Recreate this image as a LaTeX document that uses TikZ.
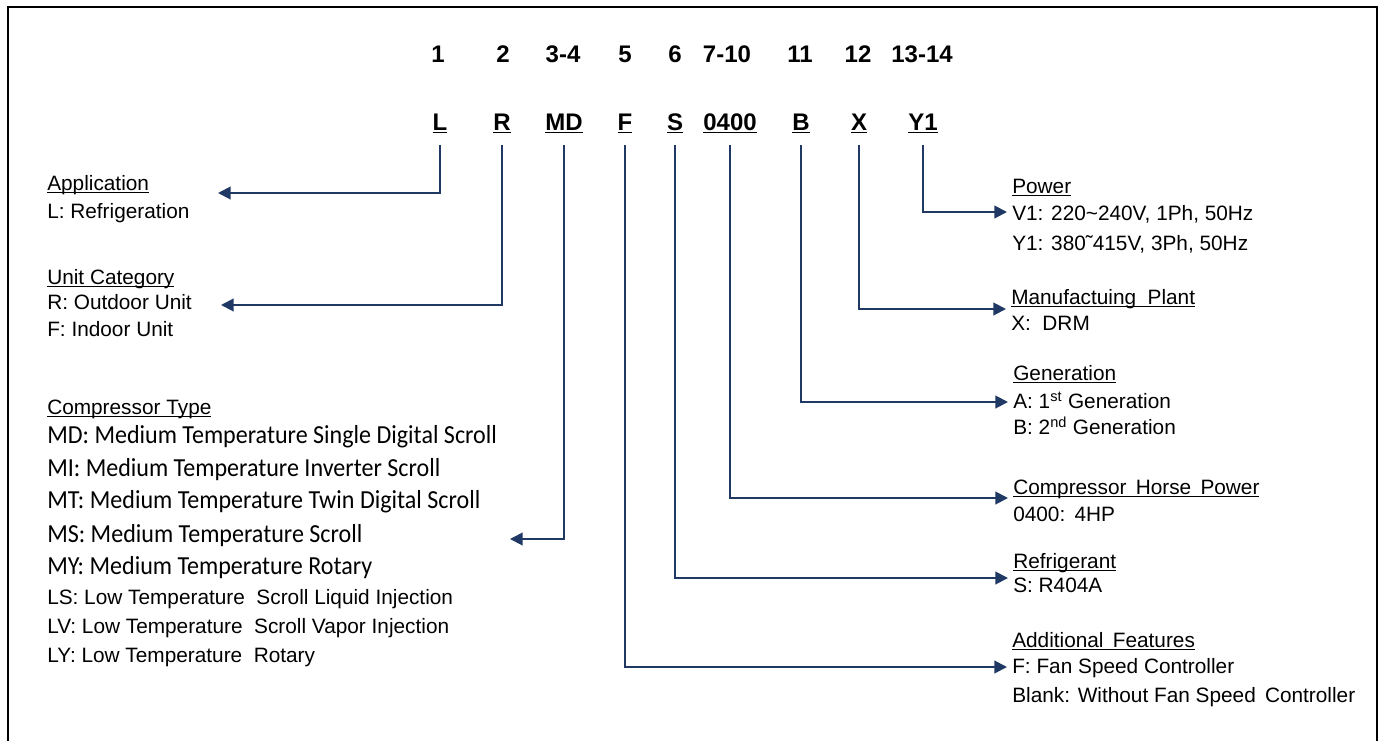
\documentclass[tikz,border=0pt]{standalone}
\usepackage{fontspec}
\setmainfont{Liberation Sans}
\newfontfamily\calibfont[FakeStretch=0.925]{Carlito}
\usepackage{tikz}
\usetikzlibrary{positioning}
\usetikzlibrary{arrows.meta}
\definecolor{navy}{RGB}{31,56,100}
\newcommand{\headul}[1]{\underline{\smash{#1}}}

\begin{document}
\begin{tikzpicture}[x=0.75pt,y=-0.75pt,
    digit/.style={font=\fontsize{18pt}{21pt}\selectfont\bfseries, anchor=base, inner sep=0pt},
    code/.style={digit, outer ysep=9pt},
    head/.style={font=\fontsize{15.6pt}{18pt}\selectfont, anchor=base west, inner sep=0pt},
    desc/.style={head},
    cdesc/.style={font=\calibfont\fontsize{19.5pt}{22pt}\selectfont, anchor=base west, inner sep=0pt},
    link/.style={draw=navy, line width=1.5pt, -{Triangle[length=9.5pt,width=9.5pt]}},
    frame/.style={draw=black, line width=1.5pt}]

    \useasboundingbox (0,0) rectangle (1384,740);
    \draw[frame] (8,760) -- (8,7) -- (1377,7) -- (1377,760);

    % Define nodes: digit positions
    \node[digit] (n1)  at (438,62) {1};
    \node[digit] (n2)  at (503,62) {2};
    \node[digit] (n3)  at (563,62) {3-4};
    \node[digit] (n5)  at (625,62) {5};
    \node[digit] (n6)  at (675,62) {6};
    \node[digit] (n7)  at (727,62) {7-10};
    \node[digit] (n11) at (800,62) {11};
    \node[digit] (n12) at (858,62) {12};
    \node[digit] (n13) at (922,62) {13-14};

    % Define nodes: model code
    \node[code] (cL)  at (440,130) {\underline{L}};
    \node[code] (cR)  at (502,130) {\underline{R}};
    \node[code] (cMD) at (564,130) {\underline{MD}};
    \node[code] (cF)  at (625,130) {\underline{F}};
    \node[code] (cS)  at (675,130) {\underline{S}};
    \node[code] (c04) at (730,130) {\underline{0400}};
    \node[code] (cB)  at (801,130) {\underline{B}};
    \node[code] (cX)  at (859,130) {\underline{X}};
    \node[code] (cY)  at (923,130) {\underline{Y1}};

    % Define nodes: left descriptions
    \node[head] (appHead)  at (47,190) {\headul{Application}};
    \node[desc] (appL)     at (47,218) {L: Refrigeration};
    \node[head] (unitHead) at (47,284) {\headul{Unit Category}};
    \node[desc] (unitR)    at (47,309) {R: Outdoor Unit};
    \node[desc] (unitF)    at (47,336) {F: Indoor Unit};
    \node[head] (compHead) at (47,414) {\headul{Compressor Type}};
    \node[cdesc] (compMD)  at (47,443) {MD: Medium Temperature Single Digital Scroll};
    \node[cdesc] (compMI)  at (47,476) {MI: Medium Temperature Inverter Scroll};
    \node[cdesc] (compMT)  at (47,508) {MT: Medium Temperature Twin Digital Scroll};
    \node[cdesc] (compMS)  at (47,542) {MS: Medium Temperature Scroll};
    \node[cdesc] (compMY)  at (47,574) {MY: Medium Temperature Rotary};
    \node[desc] (compLS)   at (47,604) {LS: Low Temperature\ \ Scroll Liquid Injection};
    \node[desc] (compLV)   at (47,633) {LV: Low Temperature\ \ Scroll Vapor Injection};
    \node[desc] (compLY)   at (47,662) {LY: Low Temperature\ \ Rotary};

    % Define nodes: right descriptions
    \node[head] (pwrHead)  at (1012,193) {\headul{Power}};
    \node[desc] (pwrV)     at (1012,220) {V1: 220\textasciitilde 240V, 1Ph, 50Hz};
    \node[desc] (pwrY)     at (1012,250) {Y1: 380˜415V, 3Ph, 50Hz};
    \node[head] (plantHead) at (1011,304) {\headul{Manufactuing\ \ Plant}};
    \node[desc] (plantX)   at (1011,330) {X:\ \ DRM};
    \node[head] (genHead)  at (1013,380) {\headul{Generation}};
    \node[desc] (genA)     at (1013,408) {A: 1\textsuperscript{st} Generation};
    \node[desc] (genB)     at (1013,434) {B: 2\textsuperscript{nd} Generation};
    \node[head] (hpHead)   at (1013,494) {\headul{Compressor\,\ Horse\,\ Power}};
    \node[desc] (hp04)     at (1013,521) {0400:\,\ 4HP};
    \node[head] (refHead)  at (1013,568) {\headul{Refrigerant}};
    \node[desc] (refS)     at (1013,592) {S: R404A};
    \node[head] (featHead) at (1012,647) {\headul{Additional\,\ Features}};
    \node[desc] (featF)    at (1012,673) {F: Fan Speed Controller};
    \node[desc] (featB)    at (1012,702) {Blank: Without Fan Speed\,\ Controller};

    % Arrow ends
    \coordinate (tipApp)   at (218,193);
    \coordinate (tipUnit)  at (221,305);
    \coordinate (tipComp)  at (510,539);
    \coordinate (tipPwr)   at (1007,212);
    \coordinate (tipPlant) at (1006,309);
    \coordinate (tipGen)   at (1008,402);
    \coordinate (tipHP)    at (1008,498);
    \coordinate (tipRef)   at (1008,578);
    \coordinate (tipFeat)  at (1007,667);

    % Connect the nodes
    \draw[link] (cL.south)  |- (tipApp);
    \draw[link] (cR.south)  |- (tipUnit);
    \draw[link] (cMD.south) |- (tipComp);
    \draw[link] (cY.south)  |- (tipPwr);
    \draw[link] (cX.south)  |- (tipPlant);
    \draw[link] (cB.south)  |- (tipGen);
    \draw[link] (c04.south) |- (tipHP);
    \draw[link] (cS.south)  |- (tipRef);
    \draw[link] (cF.south)  |- (tipFeat);
\end{tikzpicture}
\end{document}
